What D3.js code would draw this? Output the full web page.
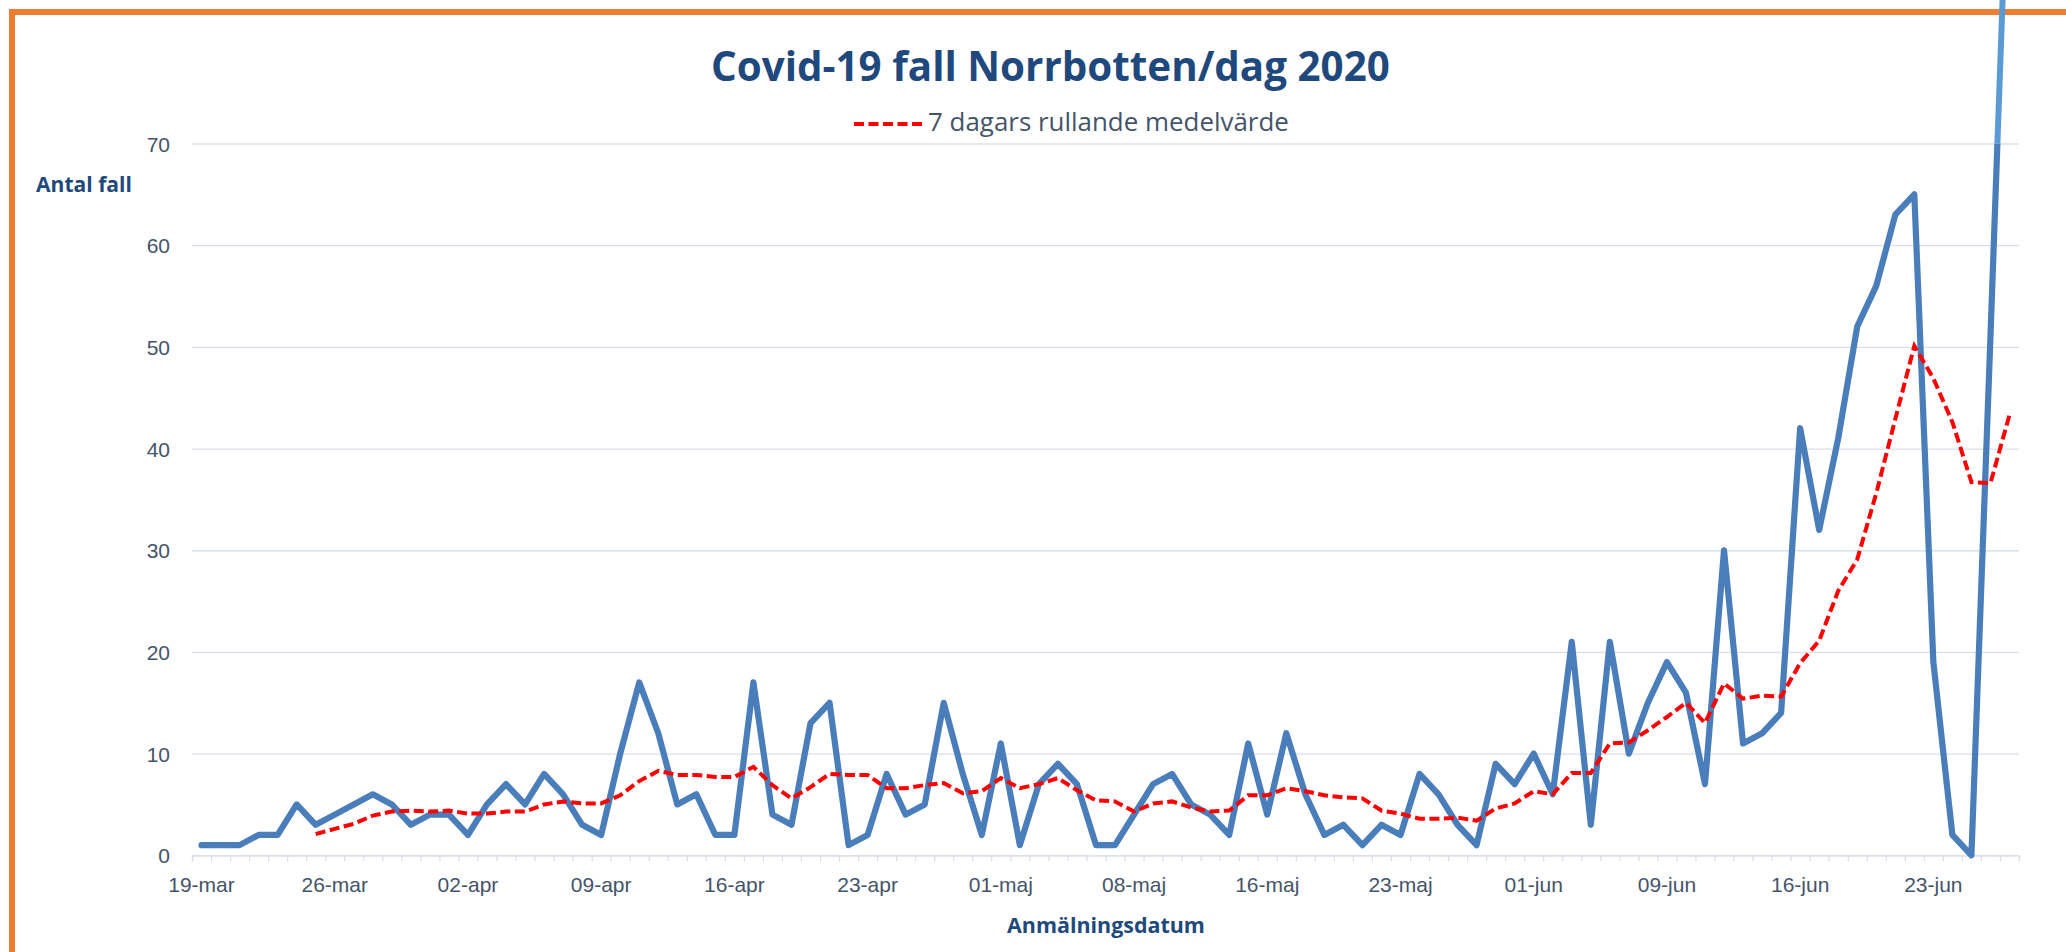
<!DOCTYPE html>
<html>
<head>
<meta charset="utf-8">
<script src="https://cdn.jsdelivr.net/npm/d3@7/dist/d3.min.js"></script>
<style>
  body { margin: 0; background: #fff; }
  svg { display: block; font-family: "Open Sans", sans-serif; }
</style>
</head>
<body>
<div class="chart"></div>
<script>
//Category labels (report dates, a few days are missing in the source sheet).
var dates = [
  "19-mar","20-mar","21-mar","22-mar","23-mar","24-mar","25-mar","26-mar","27-mar","28-mar",
  "29-mar","30-mar","31-mar","01-apr","02-apr","03-apr","04-apr","05-apr","06-apr","07-apr",
  "08-apr","09-apr","10-apr","11-apr","12-apr","13-apr","14-apr","15-apr","16-apr","17-apr",
  "18-apr","19-apr","20-apr","21-apr","22-apr","23-apr","24-apr","25-apr","27-apr","28-apr",
  "29-apr","30-apr","01-maj","02-maj","03-maj","04-maj","05-maj","06-maj","07-maj","08-maj",
  "09-maj","11-maj","12-maj","13-maj","14-maj","15-maj","16-maj","17-maj","18-maj","19-maj",
  "20-maj","21-maj","22-maj","23-maj","25-maj","26-maj","27-maj","28-maj","29-maj","30-maj",
  "01-jun","02-jun","03-jun","04-jun","05-jun","06-jun","08-jun","09-jun","10-jun","11-jun",
  "12-jun","13-jun","14-jun","15-jun","16-jun","17-jun","18-jun","19-jun","20-jun","21-jun",
  "22-jun","23-jun","24-jun","25-jun","26-jun","27-jun"
];

//Daily cases.
var cases = [
  1, 1, 1, 2, 2, 5, 3, 4, 5, 6,
  5, 3, 4, 4, 2, 5, 7, 5, 8, 6,
  3, 2, 10, 17, 12, 5, 6, 2, 2, 17,
  4, 3, 13, 15, 1, 2, 8, 4, 5, 15,
  8, 2, 11, 1, 7, 9, 7, 1, 1, 4,
  7, 8, 5, 4, 2, 11, 4, 12, 6, 2,
  3, 1, 3, 2, 8, 6, 3, 1, 9, 7,
  10, 6, 21, 3, 21, 10, 15, 19, 16, 7,
  30, 11, 12, 14, 42, 32, 41, 52, 56, 63,
  65, 19, 2, 0, 51, 103
];

//7 day rolling mean (starts on the 7th day).
var rolling = [
  null, null, null, null, null, null, 2.1, 2.6, 3.1, 3.9,
  4.3, 4.4, 4.3, 4.4, 4.1, 4.1, 4.3, 4.3, 5.0, 5.3,
  5.1, 5.1, 5.9, 7.3, 8.3, 7.9, 7.9, 7.7, 7.7, 8.7,
  6.9, 5.6, 6.7, 8.0, 7.9, 7.9, 6.6, 6.6, 6.9, 7.1,
  6.1, 6.3, 7.6, 6.6, 7.0, 7.6, 6.4, 5.4, 5.3, 4.3,
  5.1, 5.3, 4.7, 4.3, 4.4, 5.9, 5.9, 6.6, 6.3, 5.9,
  5.7, 5.6, 4.4, 4.1, 3.6, 3.6, 3.7, 3.4, 4.6, 5.1,
  6.3, 6.0, 8.1, 8.1, 11.0, 11.1, 12.3, 13.6, 15.0, 13.0,
  16.9, 15.4, 15.7, 15.6, 18.9, 21.1, 26.0, 29.1, 35.6, 42.9,
  50.1, 46.9, 42.6, 36.7, 36.6, 43.3
];

var yTicks = [0, 10, 20, 30, 40, 50, 60, 70];
var labelEvery = 7;

var svgWidth = 2066;
var svgHeight = 952;

//Plot area edges.
var plot = { left: 192, right: 2019, top: 143.5, bottom: 855.3 };

var svg = d3.select(".chart")
  .append("svg")
  .attr("width", svgWidth)
  .attr("height", svgHeight);

//Orange frame around the chart.
svg.append("rect")
  .attr("x", 12).attr("y", 12)
  .attr("width", 2200).attr("height", 1100)
  .attr("fill", "none")
  .attr("stroke", "#ed7d31")
  .attr("stroke-width", 6);

var xScale = d3.scaleBand()
  .domain(dates)
  .range([plot.left, plot.right]);

var yScale = d3.scaleLinear()
  .domain([0, 70])
  .range([plot.bottom, plot.top]);

var xIndex = d3.scaleLinear()
  .domain([0, dates.length])
  .range([plot.left, plot.right]);

function cx(i) { return xScale(dates[i]) + xScale.bandwidth() / 2; }

//Gridlines and y labels.
var leftAxis = d3.axisLeft(yScale)
  .tickValues(yTicks)
  .tickSize(-(plot.right - plot.left))
  .tickPadding(22);

var gy = svg.append("g")
  .attr("transform", "translate(" + plot.left + ",0)")
  .call(leftAxis);
gy.select(".domain").remove();
gy.selectAll("line").attr("stroke", "#d9e0e8").attr("stroke-width", 1.3);
gy.selectAll("text")
  .attr("fill", "#44546a")
  .style("font-size", "21px")
  .attr("dy", "0.36em");

//Small ticks between the categories.
var tickAxis = d3.axisBottom(xIndex)
  .tickValues(d3.range(dates.length + 1))
  .tickSize(6)
  .tickFormat("");
var gt = svg.append("g")
  .attr("transform", "translate(0," + plot.bottom + ")")
  .call(tickAxis);
gt.select(".domain").attr("stroke", "#d9e0e8").attr("stroke-width", 1.3);
gt.selectAll("line").attr("stroke", "#d9dde3").attr("stroke-width", 1.2);

//Date labels, one per week of categories.
var bottomAxis = d3.axisBottom(xScale)
  .tickValues(dates.filter(function(d, i) { return i % labelEvery === 0; }))
  .tickSize(0)
  .tickPadding(22);
var gx = svg.append("g")
  .attr("transform", "translate(0," + plot.bottom + ")")
  .call(bottomAxis);
gx.select(".domain").remove();
gx.selectAll("text")
  .attr("fill", "#44546a")
  .style("font-size", "21px");

//Lines.
var caseLine = d3.line()
  .x(function(d, i) { return cx(i); })
  .y(function(d) { return yScale(d); });

var meanLine = d3.line()
  .defined(function(d) { return d !== null; })
  .x(function(d, i) { return cx(i); })
  .y(function(d) { return yScale(d); });

var defs = svg.append("defs");
defs.append("clipPath").attr("id", "plotClip")
  .append("rect")
  .attr("x", plot.left).attr("y", plot.top)
  .attr("width", plot.right - plot.left)
  .attr("height", plot.bottom - plot.top + 10);
defs.append("clipPath").attr("id", "overClip")
  .append("rect")
  .attr("x", plot.left).attr("y", -20)
  .attr("width", plot.right - plot.left)
  .attr("height", plot.top + 20);

svg.append("path")
  .datum(cases)
  .attr("clip-path", "url(#plotClip)")
  .attr("fill", "none")
  .attr("stroke", "#4a7ebb")
  .attr("stroke-width", 6.2)
  .attr("stroke-linejoin", "round")
  .attr("stroke-linecap", "round")
  .attr("d", caseLine);

svg.append("path")
  .datum(rolling)
  .attr("fill", "none")
  .attr("stroke", "#ff0000")
  .attr("stroke-width", 4)
  .attr("stroke-dasharray", "10,4.5")
  .attr("d", meanLine);

//The last value runs out of the plot area, drawn lighter above it.
svg.append("path")
  .datum(cases)
  .attr("clip-path", "url(#overClip)")
  .attr("fill", "none")
  .attr("stroke", "#5b9bd5")
  .attr("stroke-width", 6)
  .attr("d", caseLine);

//Scale a text so it spans a given width.
function fit(sel, w) {
  var len = sel.node().getComputedTextLength();
  var fs = parseFloat(sel.style("font-size"));
  sel.style("font-size", (fs * w / len) + "px");
}

var title = svg.append("text")
  .attr("x", 711).attr("y", 81)
  .attr("fill", "#1f497d")
  .style("font-weight", "bold")
  .style("font-size", "36px")
  .text("Covid-19 fall Norrbotten/dag 2020");
fit(title, 679);

//Legend.
svg.append("line")
  .attr("x1", 854).attr("x2", 922)
  .attr("y1", 124).attr("y2", 124)
  .attr("stroke", "#ff0000")
  .attr("stroke-width", 4)
  .attr("stroke-dasharray", "10,4.5");
var legendText = svg.append("text")
  .attr("x", 928).attr("y", 131)
  .attr("fill", "#44546a")
  .style("font-size", "22px")
  .text("7 dagars rullande medelvärde");
fit(legendText, 361);

var yTitle = svg.append("text")
  .attr("x", 36).attr("y", 192)
  .attr("fill", "#1f497d")
  .style("font-weight", "bold")
  .style("font-size", "22px")
  .text("Antal fall");
fit(yTitle, 96);

var xTitle = svg.append("text")
  .attr("x", 1007).attr("y", 933)
  .attr("fill", "#1f497d")
  .style("font-weight", "bold")
  .style("font-size", "22px")
  .text("Anmälningsdatum");
fit(xTitle, 198);
</script>
</body>
</html>
